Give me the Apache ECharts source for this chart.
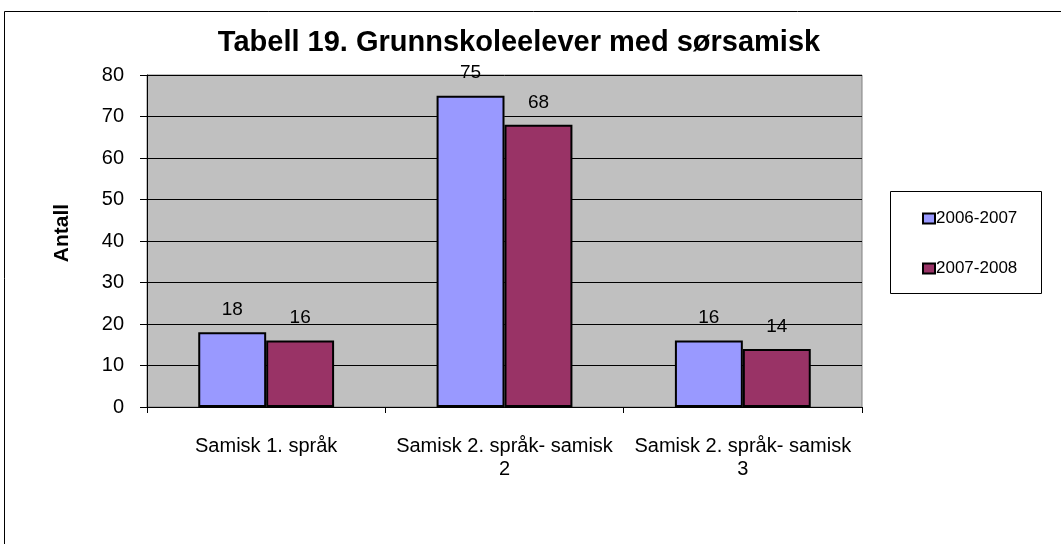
<!DOCTYPE html>
<html><head><meta charset="utf-8">
<script src="https://cdn.jsdelivr.net/npm/echarts@6/dist/echarts.min.js"></script>
<style>html,body{margin:0;padding:0;background:#fff}#c{width:1061px;height:544px}</style>
</head><body><div id="c"></div>
<script>
const categories = ['Samisk 1. språk', 'Samisk 2. språk- samisk\n2', 'Samisk 2. språk- samisk\n3'];
const series2006 = [18, 75, 16];
const series2007 = [16, 68, 14];
const seriesNames = ['2006-2007', '2007-2008'];
const yTicks = { min: 0, max: 80, interval: 10 };
const yAxisTitle = 'Antall';

const font = '"Liberation Sans", Arial, sans-serif';
const chart = echarts.init(document.getElementById('c'));
const labelCfg = { show: true, position: 'top', distance: 13, color: '#000', fontFamily: font, fontSize: 19 };
chart.setOption({
  animation: false,
  textStyle: { fontFamily: font },
  title: { text: 'Tabell 19. Grunnskoleelever med sørsamisk', left: 514, textAlign: 'center', top: 23,
    textStyle: { fontFamily: font, fontSize: 29, fontWeight: 'bold', color: '#000' } },
  graphic: [
    { type: 'rect', shape: { x: 4.5, y: 11.5, width: 1100, height: 600 }, style: { fill: 'none', stroke: '#000', lineWidth: 1 }, silent: true, z: -10 },
    { type: 'rect', shape: { x: 890.5, y: 191.5, width: 151, height: 102 }, style: { fill: '#fff', stroke: '#000', lineWidth: 1 }, silent: true, z: -1 },
    { type: 'text', x: 62, y: 233, rotation: Math.PI / 2, silent: true,
      style: { text: yAxisTitle, fontFamily: font, fontSize: 21, fontWeight: 'bold', fill: '#000', align: 'center', verticalAlign: 'middle' } }
  ],
  legend: {
    orient: 'vertical', left: 917, top: 205, itemGap: 33, itemWidth: 12, itemHeight: 10, icon: 'rect',
    textStyle: { fontFamily: font, fontSize: 17, color: '#000', padding: [0, 0, 0, -4] },
    data: seriesNames
  },
  grid: { left: 147, right: 199, top: 75, bottom: 137, show: true, backgroundColor: '#C0C0C0', borderColor: '#808080', borderWidth: 1 },
  xAxis: {
    type: 'category', data: categories,
    axisLine: { lineStyle: { color: '#000', width: 1 } },
    axisTick: { show: true, length: 6, lineStyle: { color: '#000' } },
    axisLabel: { interval: 0, hideOverlap: false, fontFamily: font, fontSize: 20, color: '#000', margin: 28, lineHeight: 23 }
  },
  yAxis: {
    type: 'value', min: yTicks.min, max: yTicks.max, interval: yTicks.interval,
    axisLine: { show: true, lineStyle: { color: '#000' } },
    axisTick: { show: true, length: 7, lineStyle: { color: '#000' } },
    axisLabel: { fontFamily: font, fontSize: 20, color: '#000', margin: 23 },
    splitLine: { show: true, lineStyle: { color: '#000', width: 1 } }
  },
  series: [
    { name: seriesNames[0], type: 'bar', data: series2006, barGap: '0%', barCategoryGap: '43%',
      itemStyle: { color: '#9999FF', borderColor: '#000', borderWidth: 2 }, label: labelCfg },
    { name: seriesNames[1], type: 'bar', data: series2007, barGap: '0%', barCategoryGap: '43%',
      itemStyle: { color: '#993366', borderColor: '#000', borderWidth: 2 }, label: labelCfg }
  ]
});
</script></body></html>
